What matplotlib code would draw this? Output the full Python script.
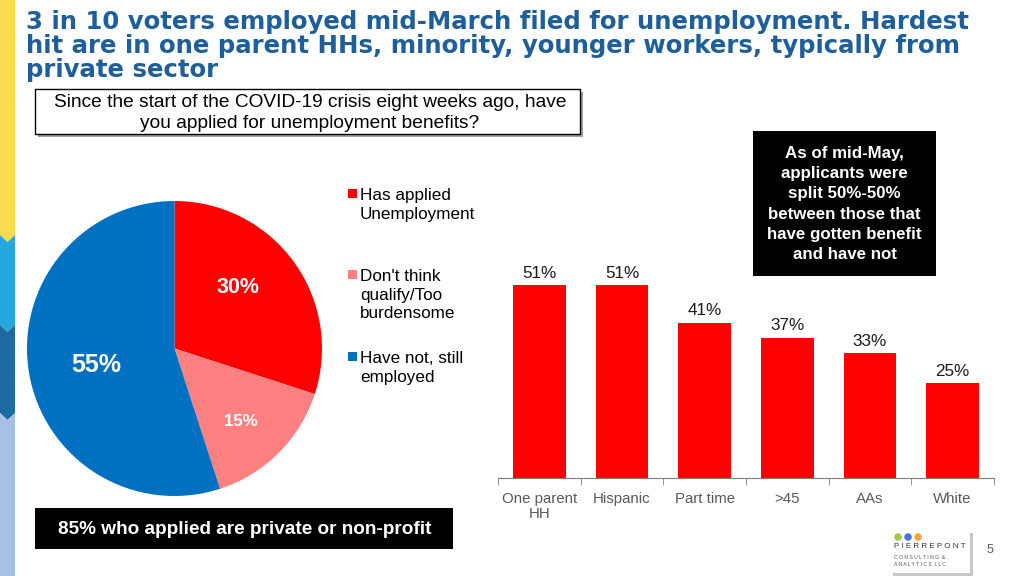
import numpy as np
import matplotlib
matplotlib.use("Agg")
from matplotlib import pyplot as plt
from matplotlib.patches import Rectangle, Polygon, Ellipse

W, H = 1024, 576

# data
title = ("3 in 10 voters employed mid-March filed for unemployment. Hardest\n"
         "hit are in one parent HHs, minority, younger workers, typically from\n"
         "private sector")
question = ("Since the start of the COVID-19 crisis eight weeks ago, have\n"
            "you applied for unemployment benefits?")
pie_labels = ["Has applied\nUnemployment", "Don't think\nqualify/Too\nburdensome", "Have not, still\nemployed"]
pie_values = [30, 15, 55]
pie_colors = ["#FF0000", "#FF8080", "#0070C0"]

bar_cats = ["One parent\nHH", "Hispanic", "Part time", ">45", "AAs", "White"]
bar_values = [51, 51, 41, 37, 33, 25]

note_box = ("As of mid-May,\napplicants were\nsplit 50%-50%\nbetween those that\n"
            "have gotten benefit\nand have not")
footer_box = "85% who applied are private or non-profit"

plt.rcParams['font.family'] = ['Liberation Sans', 'DejaVu Sans']

fig = plt.figure(figsize=(W / 100, H / 100), dpi=100)
fig.patch.set_facecolor("white")


def fx(x):
    return x / W


def fy(y):
    return 1 - y / H


# left stripe with chevrons
stripe = [(0, 235, "#F9DB4F"), (235, 325, "#27A7E0"), (325, 413, "#1B6AA2"), (413, 600, "#A8C0E6")]
sw = 15
for top, bot, col in stripe:
    pts = [(0, top), (sw / 2, top + 7), (sw, top), (sw, bot), (sw / 2, bot + 7), (0, bot)]
    if top == 0:
        pts = [(0, 0), (sw, 0), (sw, bot), (sw / 2, bot + 7), (0, bot)]
    fig.patches.append(Polygon([(fx(a), fy(b)) for a, b in pts], closed=True,
                               transform=fig.transFigure, facecolor=col, edgecolor="none", zorder=1))

# title
fig.text(fx(26), fy(10), title, fontsize=17.6, fontweight="bold", color="#1F5F99",
         family="DejaVu Sans", va="top", ha="left", linespacing=0.99)

# question box
fig.patches.append(Rectangle((fx(38), fy(137)), fx(545), 45 / H, transform=fig.transFigure,
                             facecolor="#A0A0A0", edgecolor="none", zorder=2))
fig.patches.append(Rectangle((fx(35), fy(134)), fx(545), 45 / H, transform=fig.transFigure,
                             facecolor="white", edgecolor="black", linewidth=1, zorder=3))
fig.text(fx(310), fy(113), question, fontsize=13.8, ha="center", va="center",
         linespacing=1.38, zorder=4)

# pie
ax_pie = fig.add_axes([fx(27), 80 / H, 295 / W, 295 / H])
wedges, _ = ax_pie.pie(pie_values, colors=pie_colors, startangle=90, counterclock=False,
                       wedgeprops=dict(linewidth=0))
ax_pie.set_xlim(-1, 1)
ax_pie.set_ylim(-1, 1)
ax_pie.set_aspect("equal")
pct_dist = [0.60, 0.67, 0.54]
pct_shift = [8, -2.5, 3.3]
pct_size = [15.5, 12.2, 18]
for w, v, d, da, s in zip(wedges, pie_values, pct_dist, pct_shift, pct_size):
    ang = np.deg2rad((w.theta1 + w.theta2) / 2 + da)
    ax_pie.text(d * np.cos(ang), d * np.sin(ang), f"{v}%", color="white", fontweight="bold",
                fontsize=s, ha="center", va="center")

# legend, drawn by hand to keep the slide layout
leg_y = [188, 269, 351]
for lab, col, y in zip(pie_labels, pie_colors, leg_y):
    fig.patches.append(Rectangle((fx(348), fy(y + 9.5)), 9 / W, 9 / H, transform=fig.transFigure,
                                 facecolor=col, edgecolor="none"))
    fig.text(fx(360), fy(y), lab, fontsize=12.3, va="top", ha="left", linespacing=1.3)

# bars
ax_bar = fig.add_axes([fx(498), fy(478), 496 / W, 227 / H])
x = np.arange(len(bar_cats))
bars = ax_bar.bar(x, bar_values, width=0.64, color="#FF0000", zorder=2)
for b, v in zip(bars, bar_values):
    ax_bar.text(b.get_x() + b.get_width() / 2, v + 1.2, f"{v}%", ha="center", va="bottom",
                fontsize=12.3, color="#1A1A1A")
ax_bar.set_xlim(-0.5, len(bar_cats) - 0.5)
ax_bar.set_ylim(0, 60)
for sp in ["top", "right", "left"]:
    ax_bar.spines[sp].set_visible(False)
ax_bar.spines["bottom"].set_color("#7F7F7F")
ax_bar.set_yticks([])
ax_bar.set_xticks(x)
ax_bar.set_xticklabels(bar_cats, fontsize=10.8, color="#595959", linespacing=1.1)
ax_bar.tick_params(axis="x", which="major", length=0, pad=10)
ax_bar.set_xticks(np.arange(-0.5, len(bar_cats)), minor=True)
ax_bar.tick_params(axis="x", which="minor", length=5, color="#7F7F7F")

# black note box
fig.patches.append(Rectangle((fx(753), fy(276)), 183 / W, 145 / H, transform=fig.transFigure,
                             facecolor="black", edgecolor="none", zorder=5))
fig.text(fx(844.5), fy(204), note_box, color="white", fontweight="bold", fontsize=12.2,
         ha="center", va="center", linespacing=1.42, zorder=6)

# footer box
fig.patches.append(Rectangle((fx(35), fy(549)), 418 / W, 41 / H, transform=fig.transFigure,
                             facecolor="black", edgecolor="none", zorder=5))
fig.text(fx(245), fy(529), footer_box, color="white", fontweight="bold", fontsize=13.7,
         ha="center", va="center", zorder=6)

# logo
fig.patches.append(Rectangle((fx(893), fy(576)), 80 / W, 43 / H, transform=fig.transFigure,
                             facecolor="#C8C8C8", edgecolor="none", zorder=5))
fig.patches.append(Rectangle((fx(890), fy(573)), 80 / W, 42 / H, transform=fig.transFigure,
                             facecolor="white", edgecolor="none", zorder=6))
for cx, col in zip([898, 908, 918], ["#9DCB3B", "#4A72E8", "#F6A640"]):
    fig.patches.append(Ellipse((fx(cx), fy(537)), 7.5 / W, 7.5 / H, transform=fig.transFigure,
                               facecolor=col, edgecolor="none", zorder=7))
fig.text(fx(894), fy(546), "P I E R R E P O N T", fontsize=5.8, color="#333333",
         ha="left", va="center", zorder=7)
fig.text(fx(894), fy(561), "C O N S U L T I N G  &\nA N A L Y T I C S  L L C", fontsize=3.7,
         color="#555555", ha="left", va="center", linespacing=1.5, zorder=7)
fig.text(fx(990), fy(550), "5", fontsize=9, color="#595959", ha="center", va="center")

fig.savefig("out.png", dpi=100)
